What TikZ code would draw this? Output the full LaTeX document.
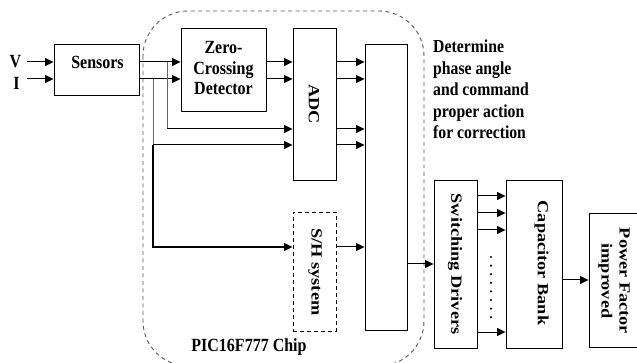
\documentclass[tikz,border=0pt]{standalone}
\usepackage{fontspec}
\setmainfont{Liberation Serif}
\newfontfamily\hfont{Liberation Serif}[FakeStretch=0.86]
\newfontfamily\vfont{Liberation Serif}[FakeStretch=1.18]
\usetikzlibrary{arrows.meta}
\begin{document}
\begin{tikzpicture}[x=1pt,y=-1pt,
  box/.style={draw, line width=0.9pt, inner sep=0pt},
  shbox/.style={box, dashed, dash pattern=on 4pt off 3pt},
  htxt/.style={font=\hfont\bfseries\fontsize{18.6}{20.5}\selectfont, inner sep=0pt, align=center},
  dtxt/.style={font=\hfont\bfseries\fontsize{18.3}{21.5}\selectfont, inner sep=0pt, align=left},
  vtxt/.style={font=\vfont\bfseries\fontsize{15.5}{18}\selectfont, inner sep=0pt, align=center, rotate=-90},
  arr/.style={-{Triangle[length=8.5pt,width=8pt]}, line width=1pt},
  thin/.style={line width=0.8pt, black!60},
  chip/.style={dashed, dash pattern=on 4pt off 3.5pt, draw=black!65, line width=0.9pt, rounded corners=45pt}]
\useasboundingbox (0,0) rectangle (637,363);
\fill[white] (0,0) rectangle (637,363);
\clip (0,0) rectangle (637,363);

% chip outline
\draw[chip] (143,11) rectangle (424,366);

% boxes
\node[box, minimum width=85pt, minimum height=51pt] (sens) at (96.5,69.5) {};
\node[box, minimum width=85pt, minimum height=83pt] (zcd) at (223.5,69.5) {};
\node[box, minimum width=43pt, minimum height=152pt] (adc) at (314.5,104) {};
\node[shbox, minimum width=43pt, minimum height=119pt] (sh) at (314.5,271.5) {};
\node[box, minimum width=42pt, minimum height=286pt] (ctl) at (386,187) {};
\node[box, minimum width=43pt, minimum height=168pt] (sw) at (455.5,264) {};
\node[box, minimum width=56pt, minimum height=168pt] (cap) at (534,264) {};
\node[box, minimum width=61pt, minimum height=134pt] (pf) at (619.5,280) {};

% texts
\node[htxt] (vlab) at (15.5,62) {V};
\node[htxt] (ilab) at (16.5,83) {I};
\node[htxt] (senst) at (97.5,62.5) {Sensors};
\node[htxt] (zcdt) at (223.5,68.5) {Zero-\\Crossing\\Detector};
\node[vtxt] (adct) at (314,104) {ADC};
\node[vtxt] (sht) at (315,272) {S/H system};
\node[vtxt] (swt) at (455,264) {Switching Drivers};
\node[vtxt] (capt) at (541.5,263) {Capacitor Bank};
\node[vtxt] (pft) at (614,281) {Power Factor\\improved};
\node[htxt] (chipt) at (249,347) {PIC16F777 Chip};
\node[dtxt, anchor=west] (dett) at (433,89.5) {Determine\\phase angle\\and command\\proper action\\for correction};

% row and column coordinates
\coordinate (ra) at (0,62);
\coordinate (rb) at (0,79);
\coordinate (rc) at (0,129);
\coordinate (rd) at (0,145);
\coordinate (re) at (0,247);
\coordinate (s1) at (0,196);
\coordinate (s2) at (0,213);
\coordinate (s3) at (0,230);
\coordinate (s4) at (0,332);
\coordinate (bx1) at (167,0);
\coordinate (bx2) at (153,0);
\coordinate (vin) at (27,62);
\coordinate (iin) at (27,79);

% connectors
\draw[arr] (vin) -- (sens.west |- vin);
\draw[arr] (iin) -- (sens.west |- iin);
\draw[arr] (sens.east |- ra) -- (zcd.west |- ra);
\draw[arr] (sens.east |- rb) -- (zcd.west |- rb);
\draw[arr] (zcd.east |- ra) -- (adc.west |- ra);
\draw[arr] (zcd.east |- rb) -- (adc.west |- rb);
\draw[thin] (bx1 |- ra) -- (bx1 |- rc);
\draw[arr] (bx1 |- rc) -- (adc.west |- rc);
\draw[thin] (bx2 |- rb) -- (bx2 |- rd);
\draw[arr] (bx2 |- rd) -- (adc.west |- rd);
\draw[arr, line width=1.3pt] (bx2 |- rd) -- (bx2 |- re) -- (sh.west |- re);
\foreach \r in {ra,rb,rc,rd}
  \draw[arr] (adc.east |- \r) -- (ctl.west |- \r);
\draw[arr] (sh.east |- re) -- (ctl.west |- re);
\draw[arr] (ctl.east |- sw.west) -- (sw.west);
\foreach \r in {s1,s2,s3,s4}
  \draw[arr] (sw.east |- \r) -- (cap.west |- \r);
\draw[arr] (cap.east |- pf.west) -- (pf.west);

% dots
\foreach \i in {0,...,7}
  \fill (491,257+8.6*\i) circle[radius=1.2pt];
\end{tikzpicture}
\end{document}
